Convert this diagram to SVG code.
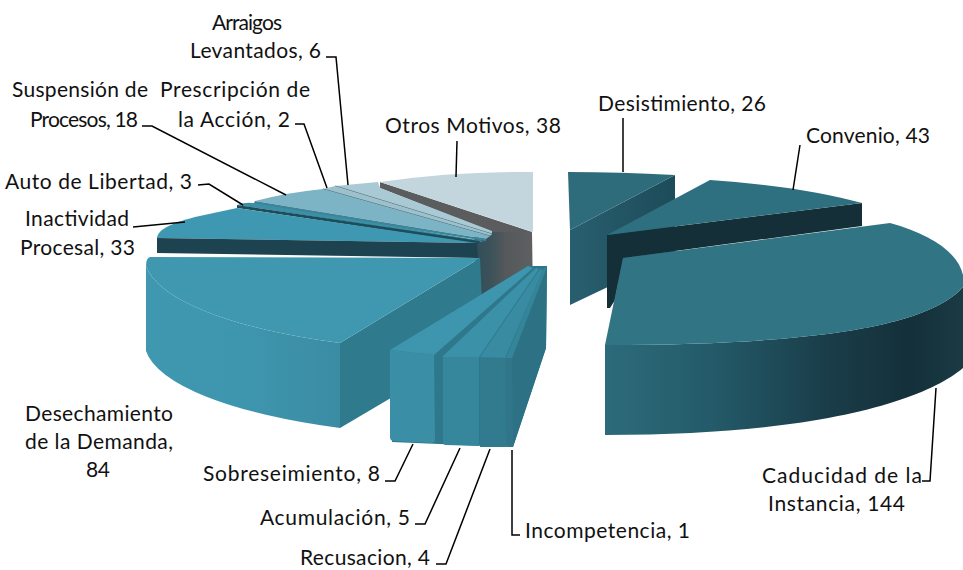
<svg xmlns="http://www.w3.org/2000/svg" width="963" height="570" viewBox="0 0 963 570">
<defs>
<style>
.lbl{font-family:Lato,"Open Sans","Liberation Sans",sans-serif;font-size:21px;fill:#111}
.ld{fill:none;stroke:#000;stroke-width:1.5}
.edge{fill:none;stroke:#4F6D77;stroke-width:1.2}
</style>
<linearGradient id="gGray" x1="474" y1="0" x2="533" y2="0" gradientUnits="userSpaceOnUse">
<stop offset="0" stop-color="#2E4E59"/><stop offset="0.3" stop-color="#3E525A"/><stop offset="0.55" stop-color="#55595C"/><stop offset="1" stop-color="#5E6061"/>
</linearGradient>
<linearGradient id="gDesRim" x1="146" y1="0" x2="340" y2="0" gradientUnits="userSpaceOnUse">
<stop offset="0" stop-color="#3F98B0"/><stop offset="0.5" stop-color="#3E96AE"/><stop offset="1" stop-color="#3A8CA3"/>
</linearGradient>
<linearGradient id="gCadRim" x1="605" y1="0" x2="963" y2="0" gradientUnits="userSpaceOnUse">
<stop offset="0" stop-color="#2C6B7B"/><stop offset="0.3" stop-color="#245A69"/><stop offset="0.62" stop-color="#1A3D49"/><stop offset="0.85" stop-color="#14303A"/><stop offset="1" stop-color="#1A3A44"/>
</linearGradient>
<linearGradient id="gDesiSide" x1="570" y1="0" x2="675" y2="0" gradientUnits="userSpaceOnUse">
<stop offset="0" stop-color="#285F6F"/><stop offset="1" stop-color="#1D4B59"/>
</linearGradient>
</defs>
<rect width="963" height="570" fill="#fff"/>

<g id="otros-motivos">
<path d="M474,236 L492,231 L532,232 L533,298 L476,298 Z" fill="url(#gGray)"/>
<path d="M380,182 L532,232 L492,232 L380,188 Z" fill="#5A5C5E"/>
<path d="M380,182 Q456,171 533,172 L533,232 Z" fill="#C4D6DD"/>
</g>
<g id="arraigos-levantados">
<path d="M335,186 L378,182 L380,188 L492,231 L492,234 Z" fill="#A9C9D4"/>
<path class="edge" d="M335,186 L492,234"/>
</g>
<g id="prescripcion-accion">
<path d="M323,189 L335,186 L492,234 L490,236 Z" fill="#9CC1CD"/>
<path class="edge" d="M323,189 L490,236"/>
</g>
<g id="suspension-procesos">
<path d="M255,201 Q290,192 323,189 L490,236 L486,239 Z" fill="#7CB4C5"/>
<path d="M255,201 L486,239 L486,241 L253,205 Z" fill="#3E8499"/>
</g>
<g id="auto-libertad">
<path d="M237,205 Q246,202 253,203 L484,241 L480,242 Z" fill="#3A90A7"/>
<path d="M237,205 L480,241 L478,244 L237,208 Z" fill="#1F4C59"/>
</g>
<g id="inactividad-procesal">
<path d="M157,238 C158,229 172,223 195,217 L237,208 L477,243 L477,243 Z" fill="#3F98B1"/>
<path d="M157,238 L477,243 L478,258 L157,253 Z" fill="#1D4350"/>
</g>
<g id="desechamiento-demanda">
<path d="M480,258 L340,343 L340,428 L484,343 Z" fill="#2F7A8D"/>
<path d="M146,266 A340,95 0 0 0 340,343 L340,428 A340,95 0 0 1 146,351 Z" fill="url(#gDesRim)"/>
<path d="M150,257 L480,258 L340,343 A340,95 0 0 1 146,266 Q146,258 150,257 Z" fill="#4098B0"/>
</g>
<g id="blocks">
<path d="M390,350 L528,266 L547,266 L546,348 L513,447 L392,442 Z" fill="#2F788B"/>
<path d="M512,358 L547,266 L546,348 L513,447 Z" fill="#2D7184"/>
<g id="sobreseimiento">
<path d="M390,350 L434,355 L435,440 Q435,443 431,443 L394,441 Q390,441 390,437 Z" fill="#3A8EA5"/>
<path d="M390,350 L528,266 L533,268 L434,355 Z" fill="#3D96AD"/>
</g>
<g id="acumulacion">
<path d="M443,357 L479,357 L479,446 L446,445 Q443,445 443,442 Z" fill="#36869C"/>
<path d="M442,357 L536,268 L539,269 L479,357 Z" fill="#3A91A8"/>
</g>
<g id="recusacion">
<path d="M480,357 L505,358 L506,447 L480,447 Z" fill="#327B8F"/>
<path d="M480,357 L540,269 L543,270 L505,358 Z" fill="#388BA1"/>
</g>
<g id="incompetencia">
<path d="M507,358 L512,358 L513,447 L507,447 Z" fill="#307588"/>
<path d="M506,358 L543,269 L547,267 L512,358 Z" fill="#35859A"/>
</g>
</g>
<g id="desistimiento">
<path d="M570,230 L675,175 L675,255 L570,305 Z" fill="url(#gDesiSide)"/>
<path d="M568,172 Q620,172 675,175 L570,230 Z" fill="#2E6C7C"/>
</g>
<g id="convenio">
<path d="M607,235 L862,203 L862,226 L623,258 L615,300 L610,308 L607,308 Z" fill="#142F38"/>
<path d="M607,235 L710,180 Q800,186 862,203 Z" fill="#2E6F80"/>
</g>
<g id="caducidad-instancia">
<path d="M605,345 C820,345 930,325 963,287 L963,368 C925,400 820,435 605,435 Z" fill="url(#gCadRim)"/>
<path d="M623,258 L890,223 C930,234 958,252 963,275 L963,287 C930,325 820,345 605,345 Z" fill="#317585"/>
</g>

<g id="connectors">
<path class="ld" d="M457,141 L456,177"/>
<path class="ld" d="M623,118 L623,172"/>
<path class="ld" d="M800,145 L793,190"/>
<path class="ld" d="M922,481 L930,481 L936,388"/>
<path class="ld" d="M326,57 L336,57 L348,185"/>
<path class="ld" d="M295,124 L304,124 L327,188"/>
<path class="ld" d="M142,126 L152,126 L286,195"/>
<path class="ld" d="M198,185 L209,184 L243,205"/>
<path class="ld" d="M133,227 L185,222"/>
<path class="ld" d="M385,481 L395,481 L413,444"/>
<path class="ld" d="M415,524 L425,524 L460,448"/>
<path class="ld" d="M436,564 L446,564 L490,449"/>
<path class="ld" d="M512,450 L512,535 L520,535"/>
</g>

<g id="labels">
<text class="lbl" x="212" y="30" textLength="70" lengthAdjust="spacing">Arraigos</text>
<text class="lbl" x="190" y="58" textLength="131" lengthAdjust="spacing">Levantados, 6</text>
<text class="lbl" x="12" y="97" textLength="136" lengthAdjust="spacing">Suspensión de</text>
<text class="lbl" x="30" y="127" textLength="108" lengthAdjust="spacing">Procesos, 18</text>
<text class="lbl" x="160" y="97" textLength="150" lengthAdjust="spacing">Prescripción de</text>
<text class="lbl" x="178" y="127" textLength="112" lengthAdjust="spacing">la Acción, 2</text>
<text class="lbl" x="385" y="133" textLength="176" lengthAdjust="spacing">Otros Motivos,  38</text>
<text class="lbl" x="598" y="111" textLength="168" lengthAdjust="spacing">Desistimiento, 26</text>
<text class="lbl" x="806" y="143" textLength="124" lengthAdjust="spacing">Convenio, 43</text>
<text class="lbl" x="5" y="189" textLength="187" lengthAdjust="spacing">Auto de Libertad, 3</text>
<text class="lbl" x="25" y="226" textLength="104" lengthAdjust="spacing">Inactividad</text>
<text class="lbl" x="20" y="255" textLength="115" lengthAdjust="spacing">Procesal, 33</text>
<text class="lbl" x="25" y="421" textLength="148" lengthAdjust="spacing">Desechamiento</text>
<text class="lbl" x="25" y="449" textLength="148" lengthAdjust="spacing">de la Demanda,</text>
<text class="lbl" x="86" y="477" textLength="24" lengthAdjust="spacing">84</text>
<text class="lbl" x="203" y="481" textLength="177" lengthAdjust="spacing">Sobreseimiento, 8</text>
<text class="lbl" x="260" y="525" textLength="150" lengthAdjust="spacing">Acumulación, 5</text>
<text class="lbl" x="300" y="565" textLength="130" lengthAdjust="spacing">Recusacion, 4</text>
<text class="lbl" x="525" y="538" textLength="165" lengthAdjust="spacing">Incompetencia, 1</text>
<text class="lbl" x="762" y="483" textLength="160" lengthAdjust="spacing">Caducidad de la</text>
<text class="lbl" x="768" y="511" textLength="137" lengthAdjust="spacing">Instancia, 144</text>
</g>
</svg>
